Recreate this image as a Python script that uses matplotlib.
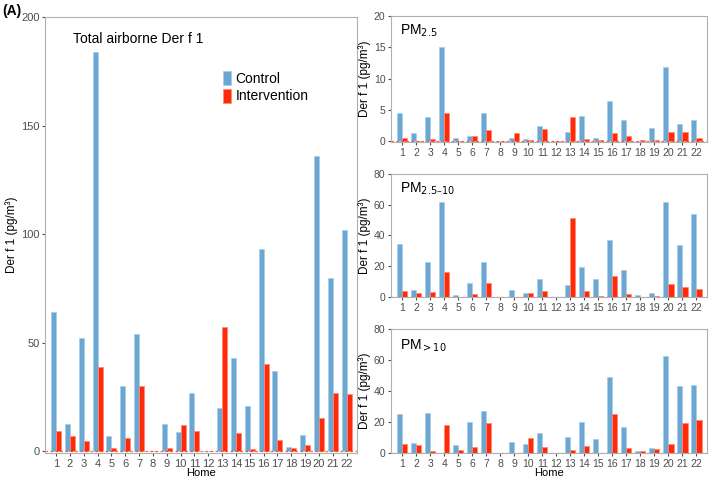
import numpy as np
import matplotlib.pyplot as plt

plt.rcParams['font.family'] = ['Liberation Sans', 'DejaVu Sans']

homes = [str(i) for i in range(1, 23)]

total_control = [64, 12.5, 52, 184, 7, 30, 54, 0, 12.5, 9, 27, 0, 20, 43, 21, 93, 37, 2, 7.5, 136, 80, 102]
total_interv = [9.5, 7, 4.5, 39, 1.5, 6, 30, 0, 1.5, 12, 9.5, 0, 57, 8.5, 1, 40, 5, 1.5, 3, 15.5, 27, 26.5]

pm25_control = [4.5, 1.4, 3.9, 15.1, 0.5, 0.8, 4.5, 0, 0.5, 0.4, 2.4, 0, 1.5, 4.0, 0.6, 6.4, 3.4, 0, 2.1, 11.8, 2.8, 3.5]
pm25_interv = [0.6, 0.1, 0.4, 4.5, 0, 0.8, 1.8, 0, 1.3, 0.3, 2.0, 0, 3.9, 0.4, 0.2, 1.4, 0.8, 0.2, 0.3, 1.5, 1.5, 0.6]

pm2510_control = [34.4, 4.5, 22.3, 62, 1.1, 9.1, 22.3, 0, 4.5, 2.6, 11.2, 0, 7.6, 19, 11.2, 37, 17, 0.9, 2.2, 61.4, 33.7, 53.8]
pm2510_interv = [3.5, 2, 3, 16.2, 0, 1.5, 8.9, 0, 0, 2.2, 3.5, 0, 51.2, 3.9, 0.6, 13.6, 1.5, 0, 0.2, 8.4, 6.3, 5]

pm10_control = [24.7, 6.2, 25.6, 0, 5, 20, 26.9, 0, 6.9, 5.8, 12.9, 0, 10.3, 19.6, 9, 49, 16.6, 0.9, 2.8, 62.4, 43, 43.9]
pm10_interv = [5.4, 4.7, 0.9, 18, 1.3, 3.7, 19.4, 0, 0, 9.5, 3.7, 0, 1.7, 4.3, 0, 25, 3, 0.9, 2.2, 5.8, 19.4, 21]

blue = '#6aa8d3'
red = '#ff2a0a'
grey = '#4d4d4d'
W, H = 709, 478


def draw(ax, ctrl, interv, ymax, yticks, fs_tick=7.5):
    x = np.arange(1, 23)
    bw = 0.36
    ax.bar(x - bw / 2, ctrl, bw, color=blue, edgecolor='#a8cbe6', linewidth=0.5, label='Control')
    ax.bar(x + bw / 2, interv, bw, color=red, edgecolor='#ff8870', linewidth=0.5, label='Intervention')
    ax.axhline(0, color=red, lw=0.9, ls=(0, (2, 2)), alpha=0.7)
    ax.set_xlim(0.2, 22.75)
    ax.set_ylim(-ymax * 0.004, ymax)
    ax.set_xticks(x)
    ax.set_xticklabels(homes)
    ax.set_yticks(yticks)
    ax.tick_params(labelsize=fs_tick, colors=grey, length=2.5, pad=1.5)
    for s in ax.spines.values():
        s.set_color('#b0b0b0')
    ax.set_ylabel('Der f 1 (pg/m³)', fontsize=8.5, labelpad=2)
    return ax


fig = plt.figure(figsize=(W / 100, H / 100), dpi=100)


def axes_px(l, t, r, b):
    return fig.add_axes([l / W, 1 - b / H, (r - l) / W, (b - t) / H])


ax0 = axes_px(45, 17, 357, 453)
draw(ax0, total_control, total_interv, 200, [0, 50, 100, 150, 200], fs_tick=8)
ax0.set_xlabel('Home', fontsize=8, labelpad=-0.5)
ax0.text(0.09, 0.965, 'Total airborne Der f 1', transform=ax0.transAxes, fontsize=10, va='top')
ax0.legend(loc='upper left', bbox_to_anchor=(0.53, 0.905), frameon=False, fontsize=10,
           handlelength=0.6, handleheight=1.2, handletextpad=0.3, labelspacing=0.2)

ax1 = axes_px(391, 16, 707, 142)
draw(ax1, pm25_control, pm25_interv, 20, [0, 5, 10, 15, 20])
ax1.text(0.03, 0.95, 'PM$_{2.5}$', transform=ax1.transAxes, fontsize=10, va='top')

ax2 = axes_px(391, 174, 707, 297)
draw(ax2, pm2510_control, pm2510_interv, 80, [0, 20, 40, 60, 80])
ax2.text(0.03, 0.95, 'PM$_{2.5\u201310}$', transform=ax2.transAxes, fontsize=10, va='top')

ax3 = axes_px(391, 329, 707, 453)
draw(ax3, pm10_control, pm10_interv, 80, [0, 20, 40, 60, 80])
ax3.text(0.03, 0.93, 'PM$_{>10}$', transform=ax3.transAxes, fontsize=10, va='top')
ax3.set_xlabel('Home', fontsize=8, labelpad=-0.5)

fig.text(2 / W, 1 - 4 / H, '(A)', fontsize=10, fontweight='bold', va='top')

fig.savefig('out.png', dpi=100)
